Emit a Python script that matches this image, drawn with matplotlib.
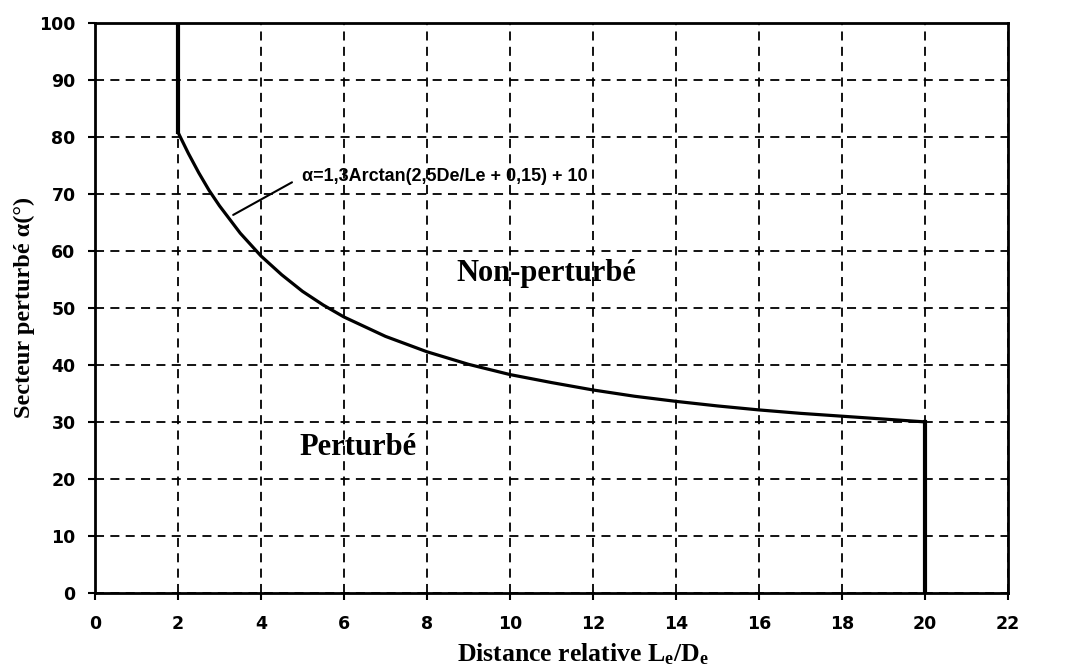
import matplotlib
matplotlib.use("Agg")
import matplotlib.pyplot as plt

# Data
ratio = [2, 2, 2.25, 2.5, 2.75, 3, 3.5, 4, 4.5, 5, 5.5, 6, 7, 8, 9, 10, 11, 12, 13, 14, 15, 16, 17, 18, 19, 20, 20]
angle = [100, 80.8, 77.1, 73.7, 70.6, 67.9, 63.1, 59.1, 55.8, 52.9, 50.5, 48.4, 45.0, 42.3, 40.1, 38.3, 36.9, 35.6, 34.5, 33.6, 32.8, 32.1, 31.5, 31.0, 30.5, 30.0, 0]

x_ticks = list(range(0, 23, 2))
y_ticks = list(range(0, 101, 10))

formula = "\u03b1=1,3Arctan(2,5De/Le + 0,15) + 10"
label_upper = "Non-perturbé"
label_lower = "Perturbé"
xlabel = "Distance relative $\\mathrm{L_e/D_e}$"
ylabel = "Secteur perturbé \u03b1(°)"

plt.rcParams['mathtext.fontset'] = 'custom'
plt.rcParams['mathtext.rm'] = 'Liberation Serif:bold'
plt.rcParams['mathtext.it'] = 'Liberation Serif:bold'
plt.rcParams['mathtext.bf'] = 'Liberation Serif:bold'

fig = plt.figure(figsize=(10.72, 6.70), dpi=100)
ax = fig.add_axes([0.0886, 0.115, 0.8517, 0.851])

ax.plot(ratio[1:-1], angle[1:-1], color='black', lw=2.3, solid_joinstyle='round')
ax.plot(ratio[:2], angle[:2], color='black', lw=3.0)
ax.plot(ratio[-2:], angle[-2:], color='black', lw=3.0)

ax.set_xlim(0, 22)
ax.set_ylim(0, 100)
ax.set_xticks(x_ticks)
ax.set_yticks(y_ticks)
ax.grid(True, color='black', linestyle=(0, (5, 3.5)), linewidth=1.3)
ax.set_axisbelow(True)

for s in ax.spines.values():
    s.set_linewidth(2.0)
    s.set_color('black')

ax.tick_params(axis='x', direction='out', length=5, width=1.5, pad=11)
ax.tick_params(axis='y', direction='out', length=5, width=1.5, pad=9)
for lab in ax.get_xticklabels() + ax.get_yticklabels():
    lab.set_fontfamily('DejaVu Sans')
    lab.set_fontweight('bold')
    lab.set_fontsize(12.5)

ax.set_xlabel(xlabel, fontfamily='Liberation Serif', fontweight='bold', fontsize=18.5)
ax.xaxis.set_label_coords(0.534, -0.085)
ax.xaxis.label.set_verticalalignment('top')
ax.set_ylabel(ylabel, fontfamily='Liberation Serif', fontweight='bold', fontsize=17.5)
ax.yaxis.set_label_coords(-0.066, 0.5)

ax.text(10.87, 56.0, label_upper, fontfamily='Liberation Serif', fontweight='bold',
        fontsize=22, ha='center', va='center')
ax.text(6.34, 25.5, label_lower, fontfamily='Liberation Serif', fontweight='bold',
        fontsize=22, ha='center', va='center')

ax.annotate(formula, xy=(3.33, 66.3), xytext=(4.99, 73.0),
            fontfamily='Liberation Sans', fontweight='bold', fontsize=13,
            ha='left', va='center',
            arrowprops=dict(arrowstyle='-', color='black', lw=1.5,
                            shrinkA=6, shrinkB=0, relpos=(0, 0.5)))

fig.savefig("out.png", dpi=100, facecolor='white')
